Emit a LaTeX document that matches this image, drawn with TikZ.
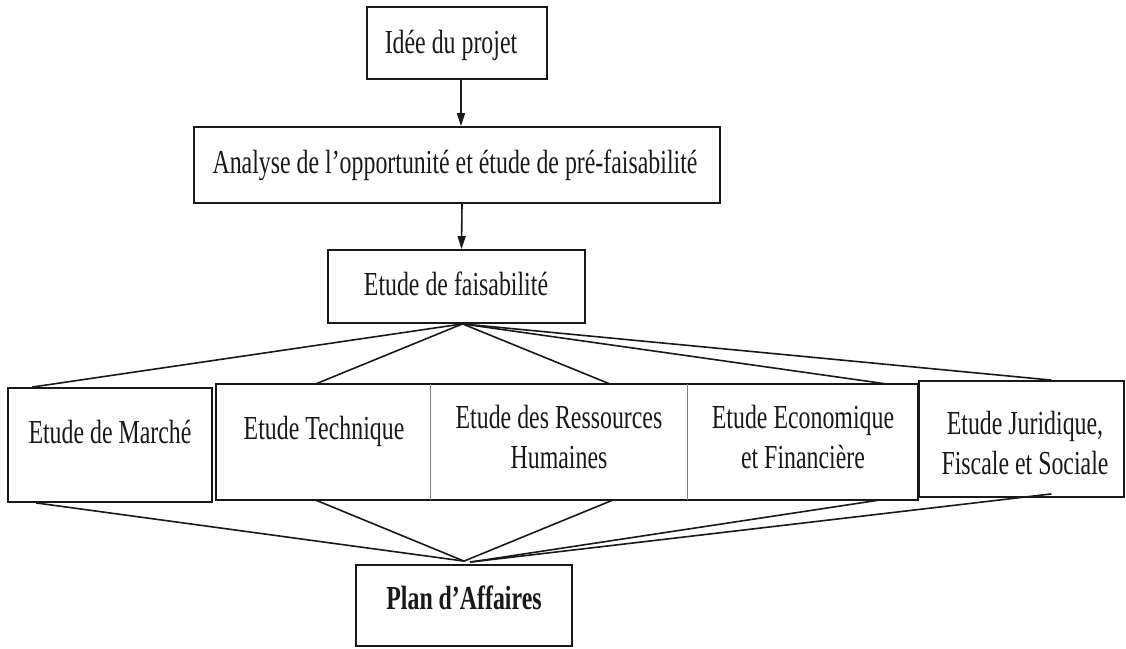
\documentclass[tikz,border=0pt]{standalone}
\usepackage{fontspec}
\setmainfont{Liberation Serif}[FakeStretch=0.71]
\usetikzlibrary{arrows.meta,calc}
\begin{document}
\begin{tikzpicture}[x=1pt,y=-1pt,
  box/.style={draw=black!90, line width=1.8pt, inner sep=0pt},
  cell/.style={inner sep=0pt},
  lbl/.style={font=\fontsize{33.6}{40}\selectfont, inner sep=0pt, align=center, text=black!90},
  link/.style={line width=1.6pt, draw=black!90},
  divider/.style={line width=1.2pt, draw=black!50},
  arr/.style={link, -{Triangle[length=13pt,width=8pt]}}]
\useasboundingbox (0,0) rectangle (1126,648);
\fill[white] (0,0) rectangle (1126,648);

% boxes
\node[box, minimum width=180pt, minimum height=72pt] (idee) at (457,43) {};
\node[box, minimum width=526pt, minimum height=76pt] (analyse) at (457,165) {};
\node[box, minimum width=257pt, minimum height=73pt] (faisa) at (456.5,286.5) {};
\node[box, minimum width=204pt, minimum height=114pt] (marche) at (110,445) {};
\node[cell, minimum width=214pt, minimum height=116pt] (tech) at (323,442) {};
\node[cell, minimum width=257pt, minimum height=116pt] (rh) at (558.5,442) {};
\node[cell, minimum width=231pt, minimum height=116pt] (eco) at (802.5,442) {};
\node[box, minimum width=205pt, minimum height=116pt] (jur) at (1021.5,439) {};
\node[box, minimum width=216pt, minimum height=81pt] (plan) at (464,605.5) {};
\draw[box] (tech.north west) rectangle (eco.south east);
\draw[divider] (tech.north east) -- (tech.south east);
\draw[divider] (rh.north east) -- (rh.south east);

% texts
\node[lbl, anchor=base] (tidee) at (451,53) {Idée du projet};
\node[lbl, anchor=base] (tanalyse) at (455,173) {Analyse de l’opportunité et étude de pré-faisabilité};
\node[lbl, anchor=base] (tfaisa) at (456,295) {Etude de faisabilité};
\node[lbl, anchor=base] (tmarche) at (110,443) {Etude de Marché};
\node[lbl, anchor=base] (ttech) at (324,439) {Etude Technique};
\node[lbl] (trh) at (559,436.5) {Etude des Ressources\\Humaines};
\node[lbl] (teco) at (803,436.5) {Etude Economique\\et Financière};
\node[lbl] (tjur) at (1025,442.5) {Etude Juridique,\\Fiscale et Sociale};
\node[lbl, anchor=base, font=\fontsize{33.6}{40}\selectfont\bfseries] (tplan) at (464,609) {Plan d’Affaires};

% arrows
\draw[arr] ([xshift=4pt]idee.south) -- ([xshift=4pt]analyse.north);
\draw[arr] ([xshift=5pt]analyse.south) -- ([xshift=5pt]faisa.north);

% fan out
\coordinate (top) at ([xshift=6pt]faisa.south);
\draw[link] (top) -- ([xshift=-78pt]marche.north);
\draw[link] (top) -- ([xshift=-7pt]tech.north);
\draw[link] (top) -- ([xshift=51pt]rh.north);
\draw[link] (top) -- ([xshift=83pt]eco.north);
\draw[link] (top) -- ([xshift=30pt]jur.north);

% fan in
\coordinate (bot) at ([yshift=3pt]plan.north);
\coordinate (botr) at ([xshift=6pt,yshift=2pt]plan.north);
\draw[link] ([xshift=-74pt]marche.south) -- (bot);
\draw[link] ([xshift=-7pt]tech.south) -- (bot);
\draw[link] ([xshift=54pt]rh.south) -- (bot);
\draw[link] ([xshift=76pt]eco.south) -- (botr);
\draw[link] ([xshift=30pt,yshift=4pt]jur.south) -- (botr);
\end{tikzpicture}
\end{document}
